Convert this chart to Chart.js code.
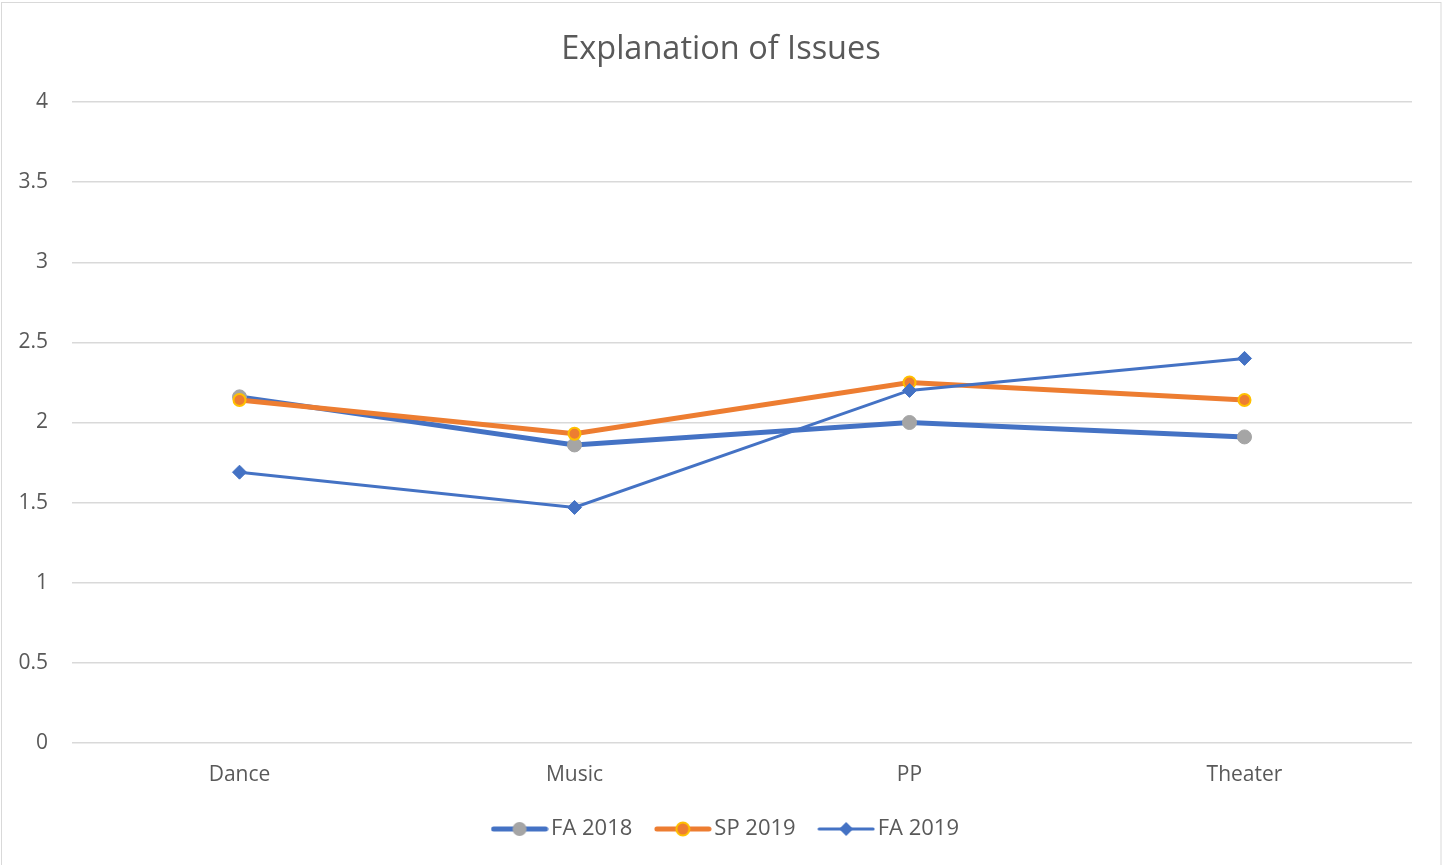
<!DOCTYPE html>
<html>
<head>
<meta charset="utf-8">
<script src="https://cdn.jsdelivr.net/npm/chart.js@4/dist/chart.umd.min.js"></script>
<style>
  html, body { margin: 0; padding: 0; background: #fff; }
  #wrap { width: 1442px; height: 865px; position: relative; }
</style>
</head>
<body>
<div id="wrap"><canvas id="c" width="1442" height="865"></canvas></div>
<script>
const categories = ["Dance", "Music", "PP", "Theater"];
const fa2018 = [2.16, 1.86, 2.00, 1.91];
const sp2019 = [2.14, 1.93, 2.25, 2.14];
const fa2019 = [1.69, 1.47, 2.20, 2.40];
const seriesNames = ["FA 2018", "SP 2019", "FA 2019"];
const yTicks = [0, 0.5, 1, 1.5, 2, 2.5, 3, 3.5, 4];

const BLUE = "#4472C4", ORANGE = "#ED7D31", GRAY = "#A5A5A5", GOLD = "#FFC000";
const TXT = "#595959";
const FONT = "'Open Sans', 'Liberation Sans', sans-serif";

function legendImage(kind) {
  const c = document.createElement("canvas");
  c.width = 58; c.height = 20;
  const g = c.getContext("2d");
  g.lineCap = "round";
  if (kind === 0) {
    g.strokeStyle = BLUE; g.lineWidth = 5;
    g.beginPath(); g.moveTo(3, 10); g.lineTo(55, 10); g.stroke();
    g.fillStyle = GRAY; g.beginPath(); g.arc(29, 10, 7, 0, Math.PI * 2); g.fill();
  } else if (kind === 1) {
    g.strokeStyle = ORANGE; g.lineWidth = 5;
    g.beginPath(); g.moveTo(3, 10); g.lineTo(55, 10); g.stroke();
    g.fillStyle = ORANGE; g.strokeStyle = GOLD; g.lineWidth = 2;
    g.beginPath(); g.arc(29, 10, 6.5, 0, Math.PI * 2); g.fill(); g.stroke();
  } else {
    g.strokeStyle = BLUE; g.lineWidth = 3;
    g.beginPath(); g.moveTo(2, 10); g.lineTo(56, 10); g.stroke();
    g.fillStyle = BLUE; g.beginPath();
    g.moveTo(29, 3); g.lineTo(36, 10); g.lineTo(29, 17); g.lineTo(22, 10); g.closePath(); g.fill();
  }
  return c;
}
const legendImgs = [legendImage(0), legendImage(1), legendImage(2)];

const frame = {
  id: "frame",
  afterLayout(chart) {
    if (chart.legend) { chart.legend.left += 23; chart.legend.right += 23; }
    if (chart.titleBlock) { chart.titleBlock.left += 15; chart.titleBlock.right += 15; }
  },
  beforeDraw(chart) {
    const ctx = chart.ctx;
    ctx.save();
    ctx.fillStyle = "#fff";
    ctx.fillRect(0, 0, chart.width, chart.height);
    ctx.restore();
  },
  afterDraw(chart) {
    const ctx = chart.ctx;
    ctx.save();
    ctx.strokeStyle = "#D9D9D9";
    ctx.lineWidth = 1;
    ctx.strokeRect(1.5, 2.5, chart.width - 2.5, chart.height + 5);
    ctx.restore();
  }
};

new Chart(document.getElementById("c"), {
  type: "line",
  data: {
    labels: categories,
    datasets: [
      { label: seriesNames[0], data: fa2018, borderColor: BLUE, borderWidth: 5,
        pointStyle: "circle", pointRadius: 7, pointBackgroundColor: GRAY, pointBorderColor: GRAY,
        pointBorderWidth: 1, order: 3, tension: 0 },
      { label: seriesNames[1], data: sp2019, borderColor: ORANGE, borderWidth: 5,
        pointStyle: "circle", pointRadius: 6, pointBackgroundColor: ORANGE, pointBorderColor: GOLD,
        pointBorderWidth: 2, order: 2, tension: 0 },
      { label: seriesNames[2], data: fa2019, borderColor: BLUE, borderWidth: 3,
        pointStyle: "rectRot", pointRadius: 7, pointBackgroundColor: BLUE, pointBorderColor: BLUE,
        pointBorderWidth: 1, order: 1, tension: 0 }
    ]
  },
  options: {
    responsive: false,
    animation: false,
    layout: { padding: { left: 0, right: 30, top: 0, bottom: 15 } },
    plugins: {
      tooltip: { enabled: false },
      title: {
        display: true, text: "Explanation of Issues", color: TXT,
        font: { family: FONT, size: 32.5, weight: "normal" },
        padding: { top: 30, bottom: 33 }
      },
      legend: {
        position: "bottom",
        labels: {
          usePointStyle: true, pointStyleWidth: 41, padding: 30,
          color: TXT, font: { family: FONT, size: 22 },
          generateLabels() {
            return seriesNames.map((n, i) => ({
              text: n, pointStyle: legendImgs[i], datasetIndex: i,
              fillStyle: "transparent", strokeStyle: "transparent", lineWidth: 0, fontColor: TXT
            }));
          }
        }
      }
    },
    scales: {
      x: {
        offset: true,
        afterFit(scale) { scale.height = 45; },
        grid: { display: false, drawTicks: false },
        border: { display: false },
        ticks: { color: TXT, font: { family: FONT, size: 21 }, padding: 19 }
      },
      y: {
        min: 0, max: 4,
        afterBuildTicks(scale) { scale.ticks = yTicks.map(v => ({ value: v })); },
        afterFit(scale) { scale.width = 72; },
        grid: { color: "#D9D9D9", lineWidth: 1.5, drawTicks: false },
        border: { display: false },
        ticks: { color: TXT, font: { family: FONT, size: 21 }, padding: 24,
                 callback: v => String(v) }
      }
    }
  },
  plugins: [frame]
});
</script>
</body>
</html>
